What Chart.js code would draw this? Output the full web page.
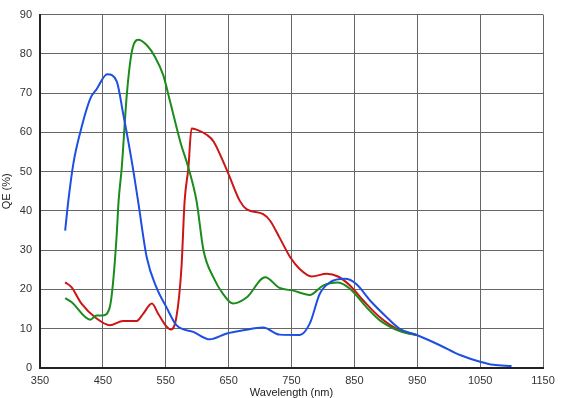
<!DOCTYPE html>
<html>
<head>
<meta charset="utf-8">
<script src="https://cdn.jsdelivr.net/npm/chart.js@4.4.1/dist/chart.umd.min.js"></script>
<style>
  html, body { margin: 0; padding: 0; background: #fff; }
  #wrap { width: 562px; height: 398px; }
</style>
</head>
<body>
<div id="wrap"><canvas id="qeChart"></canvas></div>
<script>
// wavelength (nm) / QE (%)
const blueWl = [390, 395, 403, 414, 430, 440, 457, 472, 482, 496, 506, 520, 535, 551, 567, 594, 620, 647, 673, 705, 731, 763, 779, 795, 811, 835, 853, 875, 901, 922, 949, 986, 1018, 1050, 1071, 1100];
const blueQe = [35, 42.5, 52, 60, 68.6, 71, 74.8, 73, 65, 52.6, 42.5, 28, 20.6, 15.5, 10.9, 9.2, 7.3, 8.8, 9.6, 10.3, 8.5, 8.4, 11.3, 18.9, 21.8, 22.7, 21.4, 17.2, 13, 10, 8.4, 5.8, 3.3, 1.6, 0.8, 0.5];

const greenWl = [390, 400, 430, 440, 450, 461, 466, 472, 475, 480, 488, 496, 506, 520, 533, 546, 557, 573, 586, 599, 610, 626, 641, 657, 679, 708, 731, 753, 779, 800, 824, 843, 869, 890, 922, 949];
const greenQe = [17.8, 16.8, 12.3, 13.4, 13.4, 15.5, 21.4, 34, 42.5, 51, 69.5, 80.5, 83.6, 82.2, 79.2, 74.6, 67.8, 57.7, 51, 42.5, 30, 23, 18.9, 16.4, 18, 23.1, 20.4, 19.7, 18.6, 21, 21.8, 20.2, 15.5, 12.2, 9.4, 8.4];

const redWl = [390, 400, 416, 440, 461, 482, 504, 514, 528, 538, 551, 558, 567, 575, 580, 586, 591, 599, 615, 626, 649, 668, 679, 705, 716, 731, 748, 763, 782, 806, 824, 843, 864, 890, 922, 949];
const redQe = [21.8, 20.6, 16.4, 12.6, 10.9, 12, 12, 13.8, 16.4, 13.8, 10.6, 9.8, 13, 25.6, 42.5, 51, 61, 60.7, 59.4, 57.7, 49.7, 42.5, 40.4, 39.2, 37.5, 33.2, 28.2, 25.2, 23.3, 24, 23.3, 21, 17.2, 13, 9.6, 8.4];

function toPoints(xs, ys) {
    return xs.map((x, i) => ({ x: x, y: ys[i] }));
}

function series(xs, ys, color) {
    return {
        data: toPoints(xs, ys),
        borderColor: color,
        borderWidth: 2,
        pointRadius: 0,
        cubicInterpolationMode: 'monotone',
        fill: false
    };
}

const font = { family: 'Liberation Sans, Arial, sans-serif', size: 11 };

new Chart(document.getElementById('qeChart'), {
    type: 'line',
    data: {
        // blue first so it sits on top
        datasets: [
            series(blueWl, blueQe, '#1c4fe2'),
            series(greenWl, greenQe, '#1b8c1b'),
            series(redWl, redQe, '#cc1515')
        ]
    },
    options: {
        responsive: true,
        maintainAspectRatio: false,
        animation: false,
        layout: { padding: { top: 14, right: 19, left: 0, bottom: 0 } },
        plugins: { legend: { display: false }, tooltip: { enabled: false } },
        scales: {
            x: {
                type: 'linear',
                min: 350,
                max: 1150,
                ticks: {
                    stepSize: 100, color: '#333', font: font, padding: 6, maxRotation: 0,
                    callback: v => String(v)
                },
                grid: { color: '#666', lineWidth: 1, drawTicks: false },
                border: { color: '#222', width: 2 },
                title: { display: true, text: 'Wavelength (nm)', color: '#222', font: font, padding: { top: 4, bottom: -2 } },
                afterFit: function (scale) { scale.height = 30; }
            },
            y: {
                min: 0,
                max: 90,
                ticks: { stepSize: 10, color: '#333', font: font, padding: 8 },
                grid: { color: '#666', lineWidth: 1, drawTicks: false },
                border: { color: '#222', width: 2 },
                title: { display: true, text: 'QE (%)', color: '#222', font: font, padding: 0 },
                afterFit: function (scale) { scale.width = 40; }
            }
        }
    }
});
</script>
</body>
</html>
